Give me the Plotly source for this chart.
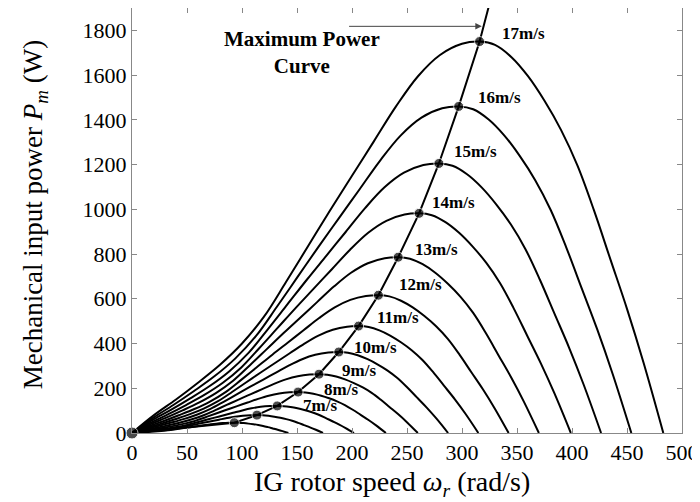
import plotly.graph_objects as go

# ---- data ----
WIND_SPEEDS = [5, 6, 7, 8, 9, 10, 11, 12, 13, 14, 15, 16, 17]
PEAK_OMEGA = [93, 113.6, 132, 151, 170, 188, 206, 224, 242, 261, 279, 297, 316]
PEAK_POWER = [46, 80, 121, 183, 263, 362, 478, 616, 786, 982, 1205, 1460, 1750]

# the 17 m/s curve, read point by point (rad/s, W)
REF_OMEGA = [0, 20, 40, 60, 80, 100, 120, 140, 160, 180, 200, 220, 240, 260, 280, 300,
             316, 330, 345, 360, 375, 390, 405, 420, 435, 450, 465, 483]
REF_POWER = [0, 80, 150, 225, 305, 400, 520, 675, 835, 995, 1150, 1305, 1460, 1595, 1690,
             1740, 1750, 1735, 1680, 1595, 1485, 1355, 1195, 995, 775, 555, 315, 0]

# maximum-power curve leaves the frame at the top
MPC_TOP_OMEGA = 324.5
MPC_TOP_POWER = 1910

LABEL_TEXT = ["7m/s", "8m/s", "9m/s", "10m/s", "11m/s", "12m/s", "13m/s",
              "14m/s", "15m/s", "16m/s", "17m/s"]
LABEL_X = [171, 190, 206, 221, 242, 262, 277, 292, 312, 334.5, 356]
LABEL_Y = [125, 196, 281, 384, 518, 665, 821, 1031, 1259, 1500, 1786]

X_TICKS = [0, 50, 100, 150, 200, 250, 300, 350, 400, 450, 500]
Y_TICKS = [0, 200, 400, 600, 800, 1000, 1200, 1400, 1600, 1800]

FONT = "Liberation Serif"

fig = go.Figure()

for v, pw, pp in zip(WIND_SPEEDS, PEAK_OMEGA, PEAK_POWER):
    sx = pw / PEAK_OMEGA[-1]
    sy = pp / PEAK_POWER[-1]
    fig.add_trace(go.Scatter(
        x=[w * sx for w in REF_OMEGA],
        y=[p * sy for p in REF_POWER],
        mode="lines",
        line=dict(color="black", width=2, shape="spline", smoothing=1.0),
        hoverinfo="skip", showlegend=False, name=f"{v} m/s"))

# maximum power curve
fig.add_trace(go.Scatter(
    x=[0] + PEAK_OMEGA + [MPC_TOP_OMEGA],
    y=[0] + PEAK_POWER + [MPC_TOP_POWER],
    mode="lines", line=dict(color="black", width=2),
    showlegend=False, hoverinfo="skip"))

fig.add_trace(go.Scatter(
    x=[0] + PEAK_OMEGA, y=[0] + PEAK_POWER,
    mode="markers", marker=dict(color="black", size=[12] + [10] * len(PEAK_OMEGA)),
    cliponaxis=False, showlegend=False, hoverinfo="skip"))

for t, x, y in zip(LABEL_TEXT, LABEL_X, LABEL_Y):
    fig.add_annotation(x=x, y=y, text=f"<b>{t}</b>", showarrow=False,
                       font=dict(family=FONT, size=17, color="black"))

fig.add_annotation(x=154.5, y=1703, text="<b>Maximum Power<br>Curve</b>", showarrow=False,
                   font=dict(family=FONT, size=21, color="black"))
fig.add_annotation(x=318, y=1818, ax=196, ay=1818, axref="x", ayref="y",
                   text="", showarrow=True, arrowhead=2, arrowsize=1.3,
                   arrowwidth=1, arrowcolor="#444")

# axis titles
fig.add_annotation(xref="paper", yref="paper", x=0.473, y=-0.118,
                   xanchor="center", yanchor="middle",
                   text="IG rotor speed <i>ω<sub>r</sub></i> (rad/s)", showarrow=False,
                   font=dict(family=FONT, size=28, color="black"))
fig.add_annotation(xref="paper", yref="paper", x=-0.176, y=0.515, textangle=-90,
                   xanchor="center", yanchor="middle",
                   text="Mechanical input power <i>P<sub>m</sub></i> (W)", showarrow=False,
                   font=dict(family=FONT, size=27, color="black"))

axis_common = dict(showline=True, linecolor="#888", linewidth=1, mirror="ticks",
                   ticks="inside", ticklen=5, tickcolor="#888", showgrid=False,
                   zeroline=False, automargin=False,
                   tickfont=dict(family=FONT, size=22, color="black"))

# the page body adds an 8px offset, so the figure is sized to fit the window
fig.update_layout(
    width=692, height=494,
    margin=dict(l=124, r=18, t=0, b=69),
    paper_bgcolor="white", plot_bgcolor="white",
    xaxis=dict(range=[0, 500], tickvals=X_TICKS, **axis_common),
    yaxis=dict(range=[0, 1900], tickvals=Y_TICKS, **axis_common),
)

fig.write_html("out.html")
